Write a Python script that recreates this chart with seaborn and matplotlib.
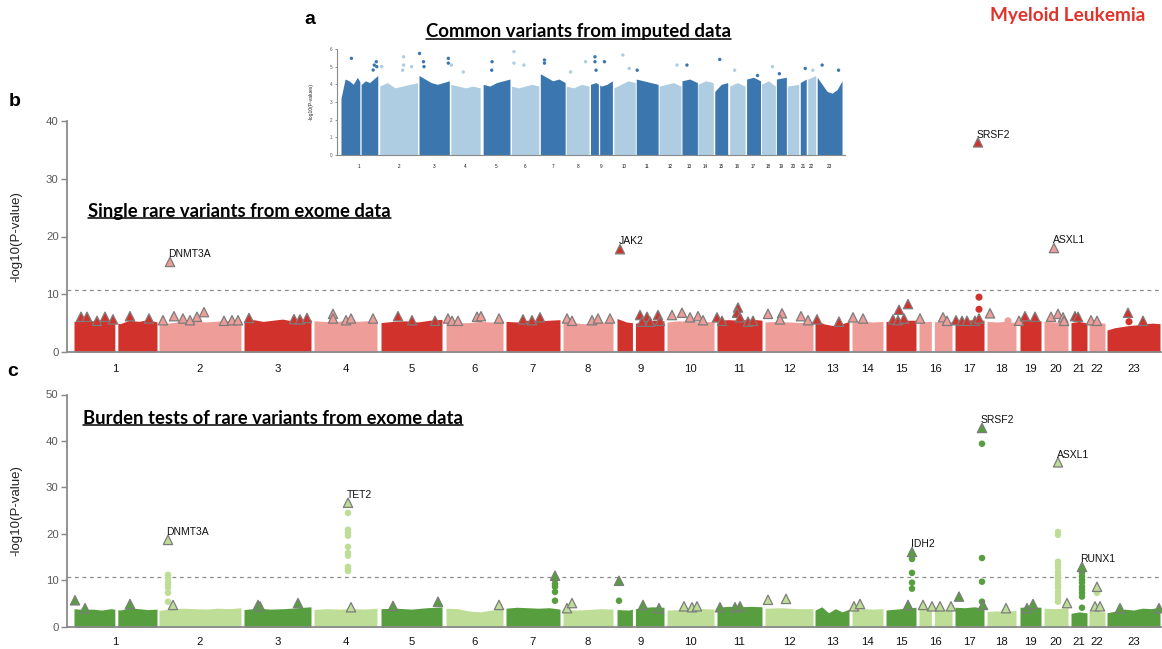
import numpy as np
import pandas as pd
import matplotlib
matplotlib.use("Agg")
import matplotlib.pyplot as plt
import seaborn as sns
from matplotlib.lines import Line2D

# ------------------------------------------------------------------ data
chrom_labels = [str(i) for i in range(1, 24)]

# cumulative genomic coordinates of chromosomes (exome panels b, c)
chr_start = [74, 159, 244, 314, 381, 446, 506, 563, 617, 667, 717, 765,
             815, 852, 886, 919, 955, 987, 1020, 1044, 1071, 1089, 1107]
chr_end = [157, 241, 311, 377, 442, 503, 560, 613, 664, 714, 762, 813,
           849, 883, 916, 952, 984, 1016, 1041, 1068, 1087, 1105, 1160]
chr_centromere = {1: 0.51, 9: 0.36, 16: 0.42}

# cumulative coordinates for imputed-data panel a
a_start = [338, 377, 416.5, 448.5, 481, 509.5, 538.5, 564.5, 589, 612.5, 635, 658,
           681, 697, 714, 729, 746, 761, 776, 787, 800, 807.5, 817]
a_end = [375, 415, 447, 478, 508, 537, 563.5, 587.5, 611, 634, 657, 680,
         696.5, 712.5, 727, 744.5, 760, 775, 786, 798.5, 806, 815.5, 842]
a_centromere = {1: 0.53, 9: 0.39}

# upper envelope of the dense bulk of variants (-log10 P) per chromosome
b_bulk_top = [
    [5.3, 5.5, 5.4, 5.5, 5.2, 4.9, 5.5, 5.3, 5.6, 5.2],
    [4.7, 5.0, 5.2, 5.3, 5.4, 5.2, 5.3, 5.4, 5.5, 5.4],
    [5.4, 5.6, 5.3, 5.5, 5.7, 5.4, 5.5, 5.6],
    [5.4, 5.3, 5.2, 5.5, 5.3, 5.4, 5.2],
    [5.1, 5.3, 5.4, 5.2, 5.5, 5.65],
    [5.2, 5.0, 5.1, 5.3, 5.2, 5.4],
    [5.3, 5.2, 5.5, 5.4, 5.5, 5.6],
    [5.0, 5.1, 4.9, 5.0, 5.2, 5.1],
    [5.8, 5.2, 5.0, 5.3, 5.5, 5.4],
    [5.2, 5.4, 5.3, 5.2, 5.3],
    [5.5, 5.6, 5.5, 5.7, 5.5],
    [5.2, 5.3, 5.2, 5.1, 5.3],
    [5.6, 4.9, 4.6, 4.8, 5.3],
    [5.2, 5.3, 5.2, 5.3],
    [5.3, 5.4, 5.5, 5.5],
    [5.2, 5.3, 5.2, 5.3],
    [5.5, 5.5, 5.6, 5.5],
    [5.3, 5.2, 5.3, 5.1],
    [5.4, 5.5, 5.4],
    [5.3, 5.2, 5.3],
    [5.1, 5.3, 5.0],
    [5.0, 5.1, 5.0],
    [3.8, 4.2, 4.4, 4.6, 4.7, 4.9, 5.0, 4.9],
]
c_bulk_top = [
    [3.9, 3.7, 3.8, 3.6, 3.9, 3.6, 4.1, 3.9, 3.7, 3.8],
    [3.5, 3.9, 4.0, 3.9, 3.8, 4.0, 3.9, 4.1],
    [3.7, 4.0, 3.8, 3.9, 4.1, 4.3],
    [3.7, 3.9, 3.8, 3.9, 3.8, 4.0],
    [3.9, 4.0, 3.8, 4.1, 4.3],
    [4.0, 3.9, 3.4, 3.2, 3.6, 3.9],
    [4.0, 4.2, 4.1, 4.0, 4.1, 3.8],
    [3.8, 3.6, 3.7, 3.9, 3.8],
    [3.7, 3.6, 4.1, 4.3, 4.2],
    [3.6, 3.7, 3.8, 3.9, 3.8],
    [4.2, 4.4, 4.3, 4.4, 4.3],
    [4.0, 4.1, 3.9, 3.9],
    [3.6, 4.3, 3.0, 3.9, 3.2, 3.8],
    [3.8, 3.9, 3.8, 3.9],
    [3.6, 3.8, 4.0, 4.2],
    [3.8, 3.9, 3.8, 3.8],
    [4.2, 4.1, 4.3, 4.0],
    [3.3, 3.4, 3.3, 3.5],
    [4.2, 4.3, 4.2],
    [4.0, 3.9, 4.1],
    [2.9, 3.2, 3.0],
    [3.3, 3.3, 3.2],
    [3.0, 3.4, 3.8, 3.6, 4.0, 3.9, 4.2],
]
a_bulk_top = [
    [3.2, 4.3, 4.2, 4.0, 4.4, 4.0, 4.2, 4.1, 4.3, 4.5],
    [3.9, 4.1, 3.8, 3.9, 4.0, 4.1],
    [4.5, 4.3, 4.1, 4.0, 4.1, 4.2],
    [4.0, 3.9, 3.8, 3.9, 3.8],
    [4.0, 3.9, 4.1, 4.2, 4.3],
    [3.9, 3.8, 3.9, 4.0, 3.9],
    [4.6, 4.4, 4.2, 4.3, 4.1],
    [3.9, 3.8, 4.0, 3.9],
    [4.0, 4.1, 3.9, 4.0, 4.2],
    [3.8, 4.0, 4.2, 4.1],
    [4.3, 4.2, 4.1, 4.0],
    [3.9, 4.0, 4.1, 3.9],
    [4.2, 4.3, 4.1],
    [4.0, 4.2, 4.1],
    [3.6, 4.0, 4.1],
    [3.9, 4.1, 3.9],
    [4.3, 4.4, 4.2],
    [4.0, 4.2, 3.9],
    [4.3, 4.4],
    [3.9, 4.0],
    [4.1, 4.3],
    [4.3, 4.5],
    [4.4, 4.0, 3.6, 3.5, 3.7, 4.2],
]

# panel a: isolated strong signals above the bulk
a_spike_x = [348.5, 373.5, 371.5, 370.4, 374, 379, 401, 401, 400, 409, 417, 421, 421.5,
             446, 446, 449, 461, 490, 489.6, 512, 512, 522, 542.7, 542.7, 569, 584,
             593.5, 593.5, 594.6, 603, 621.5, 628, 636, 676, 686, 719, 734, 757, 772,
             779, 805, 812.7, 822, 838.5]
a_spike_y = [5.47, 5.28, 5.09, 4.81, 5.0, 5.0, 5.56, 5.09, 4.8, 5.0, 5.75, 5.28, 5.0,
             5.47, 5.2, 5.09, 4.7, 5.28, 4.8, 5.85, 5.2, 5.09, 5.38, 5.2, 4.7, 5.28,
             5.56, 5.28, 4.8, 5.28, 5.66, 4.9, 4.8, 5.09, 5.09, 5.41, 4.8, 4.5, 5.0,
             4.6, 4.9, 4.8, 5.09, 4.8]

# panel b: single rare variants (triangles = coding variants, circles = others)
b_tri_x = [81, 87, 97, 105, 113, 130, 149, 163, 174, 183, 190, 197, 204, 224, 232, 238,
           249, 294, 300, 307, 333, 333, 346, 351, 373, 398, 412, 435, 448, 452, 458,
           477, 481, 499, 523, 532, 540, 567, 572, 592, 598, 610, 640, 647, 658, 642,
           650, 660, 672, 682, 690, 698, 703, 717, 722, 738, 737, 740, 748, 753, 768,
           782, 780, 801, 808, 817, 839, 853, 863, 893, 899, 908, 898, 904, 920, 943,
           947, 956, 962, 967, 975, 979, 990, 1019, 1025, 1035, 1051, 1058, 1063,
           1064, 1075, 1078, 1091, 1097, 1128, 1143]
b_tri_y = [6.1, 6.1, 5.4, 6.1, 5.65, 6.2, 5.8, 5.5, 6.2, 5.8, 5.5, 6.1, 6.9, 5.4, 5.5, 5.5,
           5.9, 5.7, 5.65, 5.9, 6.6, 5.8, 5.5, 5.8, 5.8, 6.2, 5.5, 5.4, 5.8, 5.4, 5.4,
           6.1, 6.2, 5.8, 5.65, 5.5, 6.0, 5.8, 5.4, 5.5, 5.8, 5.8, 6.4, 6.1, 6.4, 5.25,
           5.25, 5.4, 6.4, 6.8, 6.0, 6.2, 5.5, 6.0, 5.4, 7.7, 6.8, 6.0, 5.25, 5.4, 6.6,
           6.7, 5.65, 6.2, 5.5, 5.65, 5.25, 6.0, 5.8, 5.65, 7.3, 8.3, 5.5, 5.8, 5.8, 6.0,
           5.4, 5.5, 5.4, 5.4, 5.4, 5.8, 6.7, 5.4, 6.2, 6.1, 6.1, 6.6, 6.0,
           5.4, 6.2, 6.1, 5.5, 5.4, 6.8, 5.4]
b_dot_x = [979, 979, 1008, 1129]
b_dot_y = [9.5, 7.4, 5.4, 5.25]
b_gene = ["DNMT3A", "JAK2", "SRSF2", "ASXL1"]
b_gene_x = [170, 620, 978, 1054]
b_gene_y = [15.6, 17.8, 36.3, 18.0]

# panel c: burden tests
c_tri_x = [75, 85, 130, 173, 258, 260, 298, 351, 393, 438, 499, 567, 572, 555, 619, 643,
           659, 684, 692, 697, 720, 735, 740, 768, 786, 854, 860, 908, 923, 932, 940,
           951, 959, 983, 1006, 1027, 1033, 1067, 1095, 1100, 1097, 1120, 1159]
c_tri_y = [5.7, 4.0, 4.9, 4.7, 4.7, 4.4, 5.1, 4.2, 4.5, 5.4, 4.7, 4.0, 5.1, 11.0, 9.9, 4.7,
           4.0, 4.4, 4.2, 4.4, 4.2, 4.2, 4.4, 5.8, 6.0, 4.4, 4.9, 4.7, 4.7, 4.4, 4.4,
           4.4, 6.5, 4.7, 4.0, 4.0, 4.9, 5.1, 4.4, 4.4, 8.6, 4.0, 4.0]
c_dot_x = ([168] * 7 + [348] * 10 + [555] * 5 + [619] + [912] * 4 + [982] * 4
           + [1058] * 15 + [1082] * 9 + [1097])
c_dot_y = ([11.2, 10.4, 9.5, 8.9, 8.4, 7.3, 5.4]
           + [24.5, 20.9, 20.2, 19.6, 17.2, 15.9, 15.3, 12.9, 12.5, 12.0]
           + [10.1, 9.2, 8.6, 7.5, 5.6]
           + [5.6]
           + [14.6, 11.6, 9.5, 8.2]
           + [39.4, 14.8, 9.7, 5.4]
           + [20.4, 19.8, 14.0, 13.3, 12.7, 11.8, 11.2, 10.5, 9.7, 9.0, 8.4, 7.5, 6.9, 6.2, 5.4]
           + [11.6, 10.8, 10.1, 9.5, 8.6, 8.0, 7.3, 6.5, 4.1]
           + [7.3])
c_gene = ["DNMT3A", "TET2", "IDH2", "SRSF2", "ASXL1", "RUNX1"]
c_gene_x = [168, 348, 912, 982, 1058, 1082]
c_gene_y = [18.7, 26.7, 16.1, 42.8, 35.4, 12.9]

threshold = 10.8

# ------------------------------------------------------------------ style
W, H = 1162, 649
sns.set_theme(style="white")
plt.rcParams['font.family'] = ['Liberation Sans', 'DejaVu Sans']

RED_D, RED_L = "#D1322B", "#EE9D99"
GRN_D, GRN_L = "#579E3F", "#BEDD96"
BLU_D, BLU_L = "#3B77AE", "#AFCDE2"
SPINE = "#8a8a8a"


def fx(p):
    return p / W


def fy(p):
    return 1 - p / H


fig = plt.figure(figsize=(W / 100, H / 100), dpi=100)
ax_b = fig.add_axes([fx(67), fy(352), fx(1162) - fx(67), fy(121) - fy(352)])
ax_c = fig.add_axes([fx(67), fy(627), fx(1162) - fx(67), fy(394.5) - fy(627)])
ax_a = fig.add_axes([fx(337), fy(155), fx(845) - fx(337), fy(49) - fy(155)])


def shade_of(xs, starts):
    idx = np.searchsorted(np.asarray(starts), np.asarray(xs, float), side="right") - 1
    idx = np.clip(idx, 0, len(starts) - 1)
    return np.where(idx % 2 == 0, "dark", "light")


def draw_bulk(ax, starts, ends, tops, cent, dark, light, base, gap):
    for i, (s, e, t) in enumerate(zip(starts, ends, tops)):
        col = dark if i % 2 == 0 else light
        t = np.asarray(t, float)
        knots = np.linspace(s, e, len(t))
        if (i + 1) in cent:
            g = s + cent[i + 1] * (e - s)
            segs = [(s, g - gap / 2), (g + gap / 2, e)]
        else:
            segs = [(s, e)]
        for a, b in segs:
            xx = np.linspace(a, b, 60)
            yy = np.interp(xx, knots, t)
            ax.fill_between(xx, base, yy, color=col, lw=0, zorder=2)


def style_axes(ax, starts, ends, ymax, yticks, fs, spine_lw, tick_len, pad, ylabel, yl_fs, yl_x):
    ax.set_facecolor("none")
    for s in ["top", "right"]:
        ax.spines[s].set_visible(False)
    for s in ["left", "bottom"]:
        ax.spines[s].set_color(SPINE)
        ax.spines[s].set_linewidth(spine_lw)
        ax.spines[s].set_zorder(5)
    ax.set_ylim(0, ymax)
    ax.set_yticks(yticks)
    ax.set_yticklabels([str(v) for v in yticks])
    centers = [(a + b) / 2 for a, b in zip(starts, ends)]
    ax.set_xticks(centers)
    ax.set_xticklabels(chrom_labels)
    ax.tick_params(axis="y", left=True, length=tick_len, width=spine_lw * 0.8, color=SPINE,
                   labelcolor="#5a5a5a", labelsize=fs, pad=2)
    ax.tick_params(axis="x", bottom=False, labelsize=fs, labelcolor="#111111", pad=pad)
    ax.set_ylabel(ylabel, fontsize=yl_fs, color="#222222")
    ax.yaxis.set_label_coords(yl_x, 0.5)
    ax.set_xlabel("")
    ax.grid(False)


def draw_points(ax, starts, tx, ty, dx, dy, dark, light, tri_s, dot_s):
    pal = {"dark": dark, "light": light}
    if dx:
        d = pd.DataFrame({"x": dx, "y": dy, "shade": shade_of(dx, starts)})
        sns.scatterplot(data=d, x="x", y="y", hue="shade", palette=pal, marker="o",
                        s=dot_s, linewidth=0, legend=False, ax=ax, zorder=3)
    t = pd.DataFrame({"x": tx, "y": ty, "shade": shade_of(tx, starts)})
    sns.scatterplot(data=t, x="x", y="y", hue="shade", palette=pal, marker="^",
                    s=tri_s, edgecolor="#7c7c7c", linewidth=0.9, legend=False, ax=ax, zorder=4)


def draw_genes(ax, starts, names, gx, gy, dark, light, tri_s):
    pal = {"dark": dark, "light": light}
    g = pd.DataFrame({"x": gx, "y": gy, "shade": shade_of(gx, starts)})
    sns.scatterplot(data=g, x="x", y="y", hue="shade", palette=pal, marker="^",
                    s=tri_s, edgecolor="#7c7c7c", linewidth=0.9, legend=False, ax=ax, zorder=6)
    for n, x, y in zip(names, gx, gy):
        ax.annotate(n, (x, y), xytext=(-1.0, 2.0), textcoords="offset points",
                    ha="left", va="bottom", fontsize=7.5, color="#111111", zorder=7)


# ---------------- panel b
draw_bulk(ax_b, chr_start, chr_end, b_bulk_top, chr_centromere, RED_D, RED_L, 0.0, 3.0)
draw_points(ax_b, chr_start, b_tri_x, b_tri_y, b_dot_x, b_dot_y, RED_D, RED_L, 45, 26)
draw_genes(ax_b, chr_start, b_gene, b_gene_x, b_gene_y, RED_D, RED_L, 45)
ax_b.axhline(threshold, color="#8c8c8c", lw=0.9, ls=(0, (3, 3)), zorder=1)
ax_b.set_xlim(67, 1162)
style_axes(ax_b, chr_start, chr_end, 40, [0, 10, 20, 30, 40], 8.2, 1.3, 4, 2.5,
           "-log10(P-value)", 9.5, -0.041)

# ---------------- panel c
draw_bulk(ax_c, chr_start, chr_end, c_bulk_top, chr_centromere, GRN_D, GRN_L, -0.3, 3.0)
draw_points(ax_c, chr_start, c_tri_x, c_tri_y, c_dot_x, c_dot_y, GRN_D, GRN_L, 45, 22)
draw_genes(ax_c, chr_start, c_gene, c_gene_x, c_gene_y, GRN_D, GRN_L, 45)
ax_c.axhline(threshold, color="#8c8c8c", lw=0.9, ls=(0, (3, 3)), zorder=1)
ax_c.set_xlim(67, 1162)
style_axes(ax_c, chr_start, chr_end, 50, [0, 10, 20, 30, 40, 50], 8.2, 1.3, 4, 1.0,
           "-log10(P-value)", 9.5, -0.041)
ax_c.set_ylim(-0.05, 50)

# ---------------- panel a (inset)
draw_bulk(ax_a, a_start, a_end, a_bulk_top, a_centromere, BLU_D, BLU_L, 0.0, 1.3)
sp = pd.DataFrame({"x": a_spike_x, "y": a_spike_y, "shade": shade_of(a_spike_x, a_start)})
sns.scatterplot(data=sp, x="x", y="y", hue="shade", palette={"dark": BLU_D, "light": BLU_L},
                s=6, linewidth=0, legend=False, ax=ax_a, zorder=3)
ax_a.set_xlim(334, 845)
style_axes(ax_a, a_start, a_end, 6, [0, 1, 2, 3, 4, 5, 6], 3.3, 0.8, 1.5, 0.8,
           "-log10(P-values)", 3.6, -0.045)

# ------------------------------------------------------------------ texts
renderer = fig.canvas.get_renderer()


def fitted_text(x, y, s, target_w, ha="left", color="black", family="Lato",
                underline=True, base=12):
    t = fig.text(fx(x), fy(y), s, ha=ha, va="center", fontsize=base, fontweight="bold",
                 family=[family, "DejaVu Sans"], color=color)
    bb = t.get_window_extent(renderer)
    t.set_fontsize(base * target_w / bb.width)
    if underline:
        bb = t.get_window_extent(renderer)
        yl = bb.y0 + 1.2
        fig.add_artist(Line2D([bb.x0 / W, bb.x1 / W], [yl / H, yl / H], color=color, lw=1.1))
    return t


fitted_text(88, 211, "Single rare variants from exome data", 300)
fitted_text(83, 418, "Burden tests of rare variants from exome data", 377)
fitted_text(426, 32, "Common variants from imputed data", 304)
fitted_text(990, 15, "Myeloid Leukemia", 155, color="#E0332C", underline=False)

for lab, x, y in [("a", 310, 19), ("b", 15, 101), ("c", 13, 371)]:
    fig.text(fx(x), fy(y), lab, ha="center", va="center", fontsize=14, fontweight="bold",
             family=["Liberation Sans", "DejaVu Sans"], color="black")

fig.savefig("out.png", dpi=100)
